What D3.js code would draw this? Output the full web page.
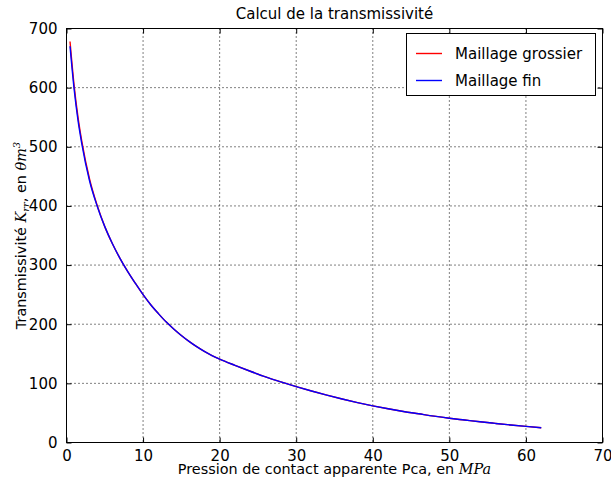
<!DOCTYPE html>
<html><head><meta charset="utf-8">
<script src="https://cdn.jsdelivr.net/npm/d3@7"></script>
<style>body{margin:0;background:#fff}svg{display:block}</style>
</head><body>
<svg id="c" width="611" height="482"></svg>
<script>
const pression = [0.46,1,1.5,2,3,4,5,6,7,8,9,10,11,12,13,14,15,16,17,18,19,20,22,24,26,28,30,32,34,36,38,40,42,44,46,48,50,52,54,56,58,60,62];
const grossier = [678,603,550,509,446,401,365,336,311,289,269,250,233,218,204,192,181,171,162,154,147,141,130.5,120.5,111,102.5,94.5,87,80,73.5,67.5,62,57,52.5,48.5,44.5,41,38,35,32.3,29.7,27.3,25];
const fin      = [670,597,545,505,443,400,365,336,311,289,269,250,233,218,204,192,181,171,162,154,147,141,130.5,120.5,111,102.5,94.5,87,80,73.5,67.5,62,57,52.5,48.5,44.5,41,38,35,32.3,29.7,27.3,25];
const xTicks = [0,10,20,30,40,50,60,70];
const yTicks = [0,100,200,300,400,500,600,700];
const seriesNames = ["Maillage grossier","Maillage fin"];
const seriesColors = ["#ff0000","#0000ff"];

const L=66.5, R=602.5, T=28.5, B=442.5;
const svg = d3.select("#c");
const x = d3.scaleLinear().domain([0,70]).range([L,R]);
const y = d3.scaleLinear().domain([0,700]).range([B,T]);
const font = "DejaVu Sans";
const math = "DejaVu Serif";

// grid
const g = svg.append("g");
g.selectAll("line.gx").data(xTicks.slice(1,-1)).enter().append("line")
  .attr("x1",d=>x(d)).attr("x2",d=>x(d)).attr("y1",T).attr("y2",B)
  .attr("stroke","#000").attr("stroke-width",1).attr("stroke-dasharray","1,3");
g.selectAll("line.gy").data(yTicks.slice(1,-1)).enter().append("line")
  .attr("y1",d=>y(d)).attr("y2",d=>y(d)).attr("x1",L).attr("x2",R)
  .attr("stroke","#000").attr("stroke-width",1).attr("stroke-dasharray","1,3");

// lines
const line = d3.line().x(d=>x(d[0])).y(d=>y(d[1])).curve(d3.curveMonotoneX);
[grossier,fin].forEach((s,i)=>{
  svg.append("path").datum(pression.map((p,j)=>[p,s[j]]))
    .attr("d",line).attr("fill","none").attr("stroke",seriesColors[i]).attr("stroke-width",1.4);
});

// axes (ticks inward on all sides)
const ax = (gen, tr) => svg.append("g").attr("transform",tr).call(gen)
  .call(s=>s.select(".domain").remove())
  .call(s=>s.selectAll("line").attr("stroke","#000"))
  .call(s=>s.selectAll("text").attr("font-family",font).attr("font-size",15).attr("fill","#000"));
ax(d3.axisBottom(x).tickValues(xTicks).tickSize(-5).tickPadding(8).tickFormat(d3.format("d")), `translate(0,${B})`);
ax(d3.axisTop(x).tickValues(xTicks).tickSize(-5).tickFormat(""), `translate(0,${T})`);
ax(d3.axisLeft(y).tickValues(yTicks).tickSize(-5).tickPadding(9).tickFormat(d3.format("d")), `translate(${L},0)`);
ax(d3.axisRight(y).tickValues(yTicks).tickSize(-5).tickFormat(""), `translate(${R},0)`);

svg.append("rect").attr("x",L).attr("y",T).attr("width",R-L).attr("height",B-T)
  .attr("fill","none").attr("stroke","#000").attr("stroke-width",1);

// title
svg.append("text").attr("x",(L+R)/2).attr("y",19).attr("text-anchor","middle")
  .attr("font-family",font).attr("font-size",15).text("Calcul de la transmissivité");

// x label
const xl = svg.append("text").attr("x",(L+R)/2).attr("y",474).attr("text-anchor","middle")
  .attr("font-family",font).attr("font-size",14.4);
xl.append("tspan").text("Pression de contact apparente Pca, en ");
xl.append("tspan").attr("font-family",math).attr("font-style","italic").text("MPa");

// y label
const yl = svg.append("text").attr("transform",`translate(26,${(T+B)/2}) rotate(-90)`)
  .attr("text-anchor","middle").attr("font-family",font).attr("font-size",14.4);
yl.append("tspan").text("Transmissivité ");
yl.append("tspan").attr("font-family",math).attr("font-style","italic").text("K");
yl.append("tspan").attr("font-family",math).attr("font-style","italic").attr("font-size",10).attr("dy",3).text("rr");
yl.append("tspan").attr("dy",-3).text(", en ");
yl.append("tspan").attr("font-family",math).attr("font-style","italic").text("θm");
yl.append("tspan").attr("font-family",math).attr("font-style","italic").attr("font-size",10).attr("dy",-6).text("3");

// legend
const lg = svg.append("g");
lg.append("rect").attr("x",406.5).attr("y",33.5).attr("width",189).attr("height",62)
  .attr("fill","#fff").attr("stroke","#000").attr("stroke-width",1);
seriesNames.forEach((n,i)=>{
  const yy = 53.5 + i*27;
  lg.append("line").attr("x1",416).attr("x2",442).attr("y1",yy).attr("y2",yy)
    .attr("stroke",seriesColors[i]).attr("stroke-width",1.4);
  lg.append("text").attr("x",455).attr("y",yy+5).attr("font-family",font).attr("font-size",15).text(n);
});
</script>
</body></html>
